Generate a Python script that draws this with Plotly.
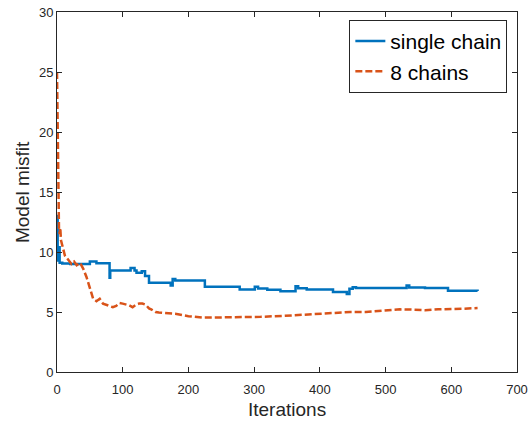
import plotly.graph_objects as go

# single chain (step-like best misfit)
single_x = [0, 1, 2, 4, 8, 20, 35, 50, 60, 80, 81, 83, 112, 118, 121, 129, 134, 140,
            173, 176, 180, 200, 225, 278, 301, 306, 320, 340, 363, 367, 380, 420, 441,
            445, 450, 455, 532, 536, 560, 595, 640]
single_y = [13.0, 9.3, 10.4, 9.1, 9.05, 9.0, 9.0, 9.2, 9.06, 7.85, 8.45, 8.45, 8.67, 8.45,
            8.28, 8.4, 8.0, 7.43, 7.2, 7.76, 7.62, 7.62, 7.1, 6.88, 7.1, 6.95, 6.85, 6.72,
            7.15, 6.98, 6.88, 6.66, 6.5, 6.93, 7.07, 7.0, 7.2, 7.05, 7.0, 6.78, 6.75]

# 8 chains
multi_x = [0, 1, 2, 3, 4, 5, 6, 8, 10, 12, 15, 18, 22, 26, 30, 35, 40, 45, 50, 55, 60,
           65, 70, 75, 80, 85, 90, 95, 100, 105, 110, 115, 120, 125, 130, 135, 140, 144,
           150, 155, 160, 170, 180, 200, 222, 250, 270, 290, 310, 343, 370, 395, 420,
           446, 470, 500, 522, 540, 560, 580, 600, 620, 640]
multi_y = [25.0, 18.0, 13.0, 12.0, 11.5, 12.0, 11.0, 10.5, 10.0, 9.7, 9.5, 9.3, 9.0,
           9.2, 8.9, 9.1, 8.6, 7.9, 6.9, 6.1, 5.9, 6.1, 5.7, 5.6, 5.45, 5.4, 5.5, 5.75,
           5.7, 5.65, 5.55, 5.4, 5.6, 5.7, 5.7, 5.6, 5.3, 5.2, 5.0, 4.95, 4.92, 4.9,
           4.85, 4.65, 4.53, 4.55, 4.56, 4.58, 4.6, 4.67, 4.75, 4.86, 4.92, 5.0, 5.0,
           5.1, 5.22, 5.2, 5.15, 5.22, 5.28, 5.28, 5.33]

x_ticks = [0, 100, 200, 300, 400, 500, 600, 700]
y_ticks = [0, 5, 10, 15, 20, 25, 30]
x_title = "Iterations"
y_title = "Model misfit"

FONT = "Liberation Sans, Arial, sans-serif"
AX = "#262626"

fig = go.Figure()
fig.add_trace(go.Scatter(x=single_x, y=single_y, mode="lines", name="single chain",
                         line=dict(color="#0072BD", width=2.5, shape="hv")))
fig.add_trace(go.Scatter(x=multi_x, y=multi_y, mode="lines", name="8 chains",
                         line=dict(color="#D95319", width=2.5, dash="7px,3px")))

axis_common = dict(showgrid=False, zeroline=False, showline=True, linecolor=AX,
                   linewidth=1, mirror="ticks", ticks="inside", ticklen=5,
                   tickcolor=AX, automargin=False, ticklabeloverflow="allow",
                   tickfont=dict(family=FONT, size=13, color=AX))

fig.update_layout(
    width=529, height=423,
    margin=dict(l=57, r=12, t=12, b=51),
    paper_bgcolor="white", plot_bgcolor="white",
    xaxis=dict(range=[0, 700], tickvals=x_ticks, ticklabelstandoff=5, **axis_common),
    yaxis=dict(range=[0, 30], tickvals=y_ticks, **axis_common),
    legend=dict(x=0.979, y=0.978, xanchor="right", yanchor="top",
                bgcolor="white", bordercolor=AX, borderwidth=1,
                font=dict(family=FONT, size=21, color="black"),
                tracegroupgap=0, itemwidth=30),
    showlegend=True,
    annotations=[
        dict(text=x_title, xref="paper", yref="paper", x=0.5, y=-0.105,
             xanchor="center", yanchor="middle", showarrow=False,
             font=dict(family=FONT, size=19, color=AX)),
        dict(text=y_title, xref="paper", yref="paper", x=-0.076, y=0.5,
             xanchor="center", yanchor="middle", showarrow=False, textangle=-90,
             font=dict(family=FONT, size=19, color=AX)),
    ],
)

fig.write_html(
    "out.html",
    config={"displayModeBar": False},
    post_script="document.body.style.margin='0';document.body.style.overflow='hidden';",
)
